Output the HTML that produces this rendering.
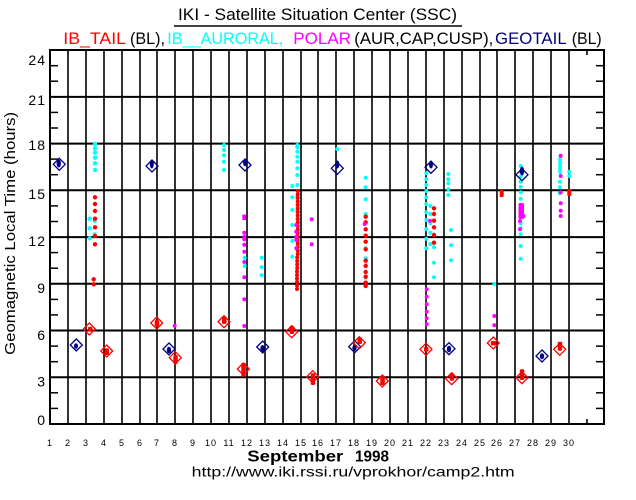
<!DOCTYPE html>
<html>
<head>
<meta charset="utf-8">
<style>
html,body{margin:0;padding:0;background:#fff;}
svg{display:block;}
text{font-family:"Liberation Sans",sans-serif;}
</style>
</head>
<body>
<svg width="636" height="500" viewBox="0 0 636 500" xmlns="http://www.w3.org/2000/svg">
<rect width="636" height="500" fill="#fff"/>

<!-- Title -->
<text x="178" y="20" font-size="17" textLength="279" lengthAdjust="spacingAndGlyphs" fill="#000">IKI - Satellite Situation Center (SSC)</text>
<line x1="174" y1="26" x2="462" y2="26" stroke="#000" stroke-width="1.5"/>
<g font-size="17">
<text x="63.3" y="44" fill="#ff0000" textLength="62.7" lengthAdjust="spacingAndGlyphs">IB_TAIL</text>
<text x="130" y="44" fill="#000" textLength="35" lengthAdjust="spacingAndGlyphs">(BL),</text>
<text x="167.3" y="44" fill="#00ffff" textLength="116" lengthAdjust="spacingAndGlyphs">IB__AURORAL,</text>
<text x="293.3" y="44" fill="#ff00ff" textLength="57.7" lengthAdjust="spacingAndGlyphs">POLAR</text>
<text x="354.3" y="44" fill="#000" textLength="139" lengthAdjust="spacingAndGlyphs">(AUR,CAP,CUSP),</text>
<text x="495" y="44" fill="#000080" textLength="71.7" lengthAdjust="spacingAndGlyphs">GEOTAIL</text>
<text x="571.7" y="44" fill="#000" textLength="30" lengthAdjust="spacingAndGlyphs">(BL)</text>
</g>

<!-- Vertical grid -->
<g stroke="#000" stroke-width="1.6">
<line x1="68" y1="50" x2="68" y2="424"/>
<line x1="86" y1="50" x2="86" y2="424"/>
<line x1="104" y1="50" x2="104" y2="424"/>
<line x1="122" y1="50" x2="122" y2="424"/>
<line x1="140" y1="50" x2="140" y2="424"/>
<line x1="157" y1="50" x2="157" y2="424"/>
<line x1="175" y1="50" x2="175" y2="424"/>
<line x1="193" y1="50" x2="193" y2="424"/>
<line x1="211" y1="50" x2="211" y2="424"/>
<line x1="229" y1="50" x2="229" y2="424"/>
<line x1="247" y1="50" x2="247" y2="424"/>
<line x1="265" y1="50" x2="265" y2="424"/>
<line x1="283" y1="50" x2="283" y2="424"/>
<line x1="301" y1="50" x2="301" y2="424"/>
<line x1="318" y1="50" x2="318" y2="424"/>
<line x1="336" y1="50" x2="336" y2="424"/>
<line x1="354" y1="50" x2="354" y2="424"/>
<line x1="372" y1="50" x2="372" y2="424"/>
<line x1="390" y1="50" x2="390" y2="424"/>
<line x1="408" y1="50" x2="408" y2="424"/>
<line x1="426" y1="50" x2="426" y2="424"/>
<line x1="444" y1="50" x2="444" y2="424"/>
<line x1="462" y1="50" x2="462" y2="424"/>
<line x1="480" y1="50" x2="480" y2="424"/>
<line x1="497" y1="50" x2="497" y2="424"/>
<line x1="515" y1="50" x2="515" y2="424"/>
<line x1="533" y1="50" x2="533" y2="424"/>
<line x1="551" y1="50" x2="551" y2="424"/>
<line x1="569" y1="50" x2="569" y2="424"/>
<line x1="587" y1="50" x2="587" y2="55"/>
<line x1="587" y1="419" x2="587" y2="424"/>
</g>

<!-- Horizontal grid -->
<g stroke="#000" stroke-width="2">
<line x1="50" y1="377.3" x2="604" y2="377.3"/>
<line x1="50" y1="330.5" x2="604" y2="330.5"/>
<line x1="50" y1="283.8" x2="604" y2="283.8"/>
<line x1="50" y1="237.1" x2="604" y2="237.1"/>
<line x1="50" y1="190.3" x2="604" y2="190.3"/>
<line x1="50" y1="143.6" x2="604" y2="143.6"/>
<line x1="50" y1="96.9" x2="604" y2="96.9"/>
</g>

<!-- Minor ticks -->
<g stroke="#000" stroke-width="1.5">
<line x1="50" y1="408.4" x2="58" y2="408.4"/><line x1="596" y1="408.4" x2="604" y2="408.4"/>
<line x1="50" y1="392.8" x2="58" y2="392.8"/><line x1="596" y1="392.8" x2="604" y2="392.8"/>
<line x1="50" y1="361.7" x2="58" y2="361.7"/><line x1="596" y1="361.7" x2="604" y2="361.7"/>
<line x1="50" y1="346.1" x2="58" y2="346.1"/><line x1="596" y1="346.1" x2="604" y2="346.1"/>
<line x1="50" y1="314.9" x2="58" y2="314.9"/><line x1="596" y1="314.9" x2="604" y2="314.9"/>
<line x1="50" y1="299.4" x2="58" y2="299.4"/><line x1="596" y1="299.4" x2="604" y2="299.4"/>
<line x1="50" y1="268.2" x2="58" y2="268.2"/><line x1="596" y1="268.2" x2="604" y2="268.2"/>
<line x1="50" y1="252.6" x2="58" y2="252.6"/><line x1="596" y1="252.6" x2="604" y2="252.6"/>
<line x1="50" y1="221.5" x2="58" y2="221.5"/><line x1="596" y1="221.5" x2="604" y2="221.5"/>
<line x1="50" y1="205.9" x2="58" y2="205.9"/><line x1="596" y1="205.9" x2="604" y2="205.9"/>
<line x1="50" y1="174.7" x2="58" y2="174.7"/><line x1="596" y1="174.7" x2="604" y2="174.7"/>
<line x1="50" y1="159.1" x2="58" y2="159.1"/><line x1="596" y1="159.1" x2="604" y2="159.1"/>
<line x1="50" y1="128" x2="58" y2="128"/><line x1="596" y1="128" x2="604" y2="128"/>
<line x1="50" y1="112.4" x2="58" y2="112.4"/><line x1="596" y1="112.4" x2="604" y2="112.4"/>
<line x1="50" y1="81.2" x2="58" y2="81.2"/><line x1="596" y1="81.2" x2="604" y2="81.2"/>
<line x1="50" y1="65.7" x2="58" y2="65.7"/><line x1="596" y1="65.7" x2="604" y2="65.7"/>
</g>

<!-- Border -->
<rect x="50" y="50" width="554" height="374" fill="none" stroke="#000" stroke-width="2"/>

<!-- Y labels -->
<g font-size="14" text-anchor="end" fill="#000" letter-spacing="1">
<text x="46" y="65">24</text>
<text x="46" y="105">21</text>
<text x="46" y="150">18</text>
<text x="46" y="199">15</text>
<text x="46" y="246">12</text>
<text x="46" y="293">9</text>
<text x="46" y="340">6</text>
<text x="46" y="386.5">3</text>
<text x="46" y="425">0</text>
</g>

<text transform="translate(15,233.4) rotate(-90)" font-size="15" text-anchor="middle" textLength="243" lengthAdjust="spacingAndGlyphs" fill="#000">Geomagnetic Local Time (hours)</text>

<!-- X labels -->
<g font-size="9" text-anchor="middle" fill="#000" letter-spacing="1">
<text x="50" y="446">1</text><text x="68" y="446">2</text><text x="86" y="446">3</text><text x="104" y="446">4</text>
<text x="122" y="446">5</text><text x="140" y="446">6</text><text x="157" y="446">7</text><text x="175" y="446">8</text>
<text x="193" y="446">9</text><text x="211" y="446">10</text><text x="229" y="446">11</text><text x="247" y="446">12</text>
<text x="265" y="446">13</text><text x="283" y="446">14</text><text x="301" y="446">15</text><text x="318" y="446">16</text>
<text x="336" y="446">17</text><text x="354" y="446">18</text><text x="372" y="446">19</text><text x="390" y="446">20</text>
<text x="408" y="446">21</text><text x="426" y="446">22</text><text x="444" y="446">23</text><text x="462" y="446">24</text>
<text x="480" y="446">25</text><text x="497" y="446">26</text><text x="515" y="446">27</text><text x="533" y="446">28</text>
<text x="551" y="446">29</text><text x="569" y="446">30</text>
</g>

<text x="247.3" y="461.7" font-size="16" font-weight="bold" textLength="96" lengthAdjust="spacingAndGlyphs" fill="#000">September</text>
<text x="355" y="461.7" font-size="16" font-weight="bold" textLength="34" lengthAdjust="spacingAndGlyphs" fill="#000">1998</text>
<text x="191.7" y="476.5" font-size="14" textLength="323" lengthAdjust="spacingAndGlyphs" fill="#000">http://www.iki.rssi.ru/vprokhor/camp2.htm</text>

<!-- Cyan dots -->
<g fill="#00ffff">
<circle cx="95" cy="144" r="2.2"/><circle cx="95" cy="148.3" r="2.2"/><circle cx="95" cy="152.7" r="2.2"/><circle cx="95" cy="157.7" r="2.2"/><circle cx="95" cy="163.3" r="2.2"/><circle cx="95" cy="170" r="2.2"/>
<circle cx="89.7" cy="218.7" r="2.2"/><circle cx="89.7" cy="228.3" r="2.2"/><circle cx="89.7" cy="238.3" r="2.2"/><circle cx="94.7" cy="221" r="2"/><circle cx="94.7" cy="234.3" r="2"/>
<circle cx="224" cy="145" r="2"/><circle cx="224" cy="150" r="2"/><circle cx="224" cy="155.3" r="2"/><circle cx="224" cy="161.7" r="2"/><circle cx="224" cy="170" r="2"/>
<circle cx="297.3" cy="145" r="2"/><circle cx="297.3" cy="147.3" r="2"/><circle cx="297.3" cy="151.7" r="2"/><circle cx="297.3" cy="156.7" r="2"/><circle cx="297.3" cy="161.7" r="2"/><circle cx="297.3" cy="168.3" r="2"/><circle cx="297.3" cy="175" r="2"/><circle cx="297.3" cy="185" r="2"/><circle cx="297.3" cy="197" r="2"/><circle cx="297.3" cy="210.7" r="2"/>
<circle cx="292.3" cy="186" r="2"/><circle cx="292.3" cy="197.3" r="2"/><circle cx="292.3" cy="210" r="2"/><circle cx="292.3" cy="225" r="2"/><circle cx="292.3" cy="241" r="2"/><circle cx="292.3" cy="256.7" r="2"/>
<circle cx="244.7" cy="257.7" r="2"/><circle cx="244.7" cy="266" r="2"/>
<circle cx="261.7" cy="257.7" r="2"/><circle cx="261.7" cy="267.3" r="2"/><circle cx="261.7" cy="275.3" r="2"/>
<circle cx="337.3" cy="149" r="2"/>
<circle cx="365.7" cy="177.7" r="2"/><circle cx="365.7" cy="187.3" r="2"/><circle cx="365.7" cy="199.3" r="2"/><circle cx="365.7" cy="214" r="2"/><circle cx="365.7" cy="248.3" r="2"/><circle cx="365.7" cy="258.3" r="2"/><circle cx="365.7" cy="265.3" r="2"/><circle cx="365.7" cy="277.7" r="2"/>
<circle cx="426.3" cy="173.3" r="2"/><circle cx="426.3" cy="179.3" r="2"/><circle cx="426.3" cy="185" r="2"/><circle cx="426.3" cy="191" r="2"/><circle cx="426.3" cy="197.3" r="2"/><circle cx="426.3" cy="204" r="2"/><circle cx="426.3" cy="212.3" r="2"/><circle cx="426.3" cy="220" r="2"/><circle cx="426.3" cy="229.3" r="2"/><circle cx="426.3" cy="238.7" r="2"/><circle cx="426.3" cy="248.3" r="2"/>
<circle cx="430.3" cy="206" r="2"/><circle cx="430.3" cy="214" r="2"/><circle cx="430.3" cy="223.3" r="2"/><circle cx="430.3" cy="232.7" r="2"/><circle cx="430.3" cy="244" r="2"/>
<circle cx="434" cy="247.3" r="2"/><circle cx="434" cy="262.7" r="2"/><circle cx="434" cy="277.3" r="2"/>
<circle cx="448.3" cy="174" r="2"/><circle cx="448.3" cy="179.3" r="2"/><circle cx="448.3" cy="183.3" r="2"/><circle cx="448.3" cy="189.3" r="2"/><circle cx="448.3" cy="195" r="2"/>
<circle cx="451" cy="230" r="2"/><circle cx="451" cy="245.3" r="2"/><circle cx="451" cy="260.3" r="2"/>
<circle cx="494.3" cy="284" r="2"/>
<circle cx="520.7" cy="166" r="2"/><circle cx="520.7" cy="171.7" r="2"/><circle cx="520.7" cy="176.7" r="2"/><circle cx="520.7" cy="181.7" r="2"/><circle cx="520.7" cy="186.7" r="2"/><circle cx="520.7" cy="192.3" r="2"/><circle cx="520.7" cy="198.7" r="2"/><circle cx="520.7" cy="205" r="2"/><circle cx="520.7" cy="215" r="2"/><circle cx="520.7" cy="223.3" r="2"/><circle cx="520.7" cy="228.3" r="2"/><circle cx="520.7" cy="234.3" r="2"/><circle cx="520.7" cy="246" r="2"/><circle cx="520.7" cy="258.7" r="2"/>
<rect x="558.3" y="157" width="3.5" height="17" rx="1"/>
<circle cx="560" cy="181.7" r="2"/><circle cx="560" cy="187.3" r="2"/><circle cx="560" cy="193.3" r="2"/>
<circle cx="569.3" cy="171.7" r="2"/><circle cx="569.3" cy="176" r="2"/>
</g>

<!-- Red dots -->
<g fill="#ff0000">
<circle cx="95" cy="197.3" r="2.2"/><circle cx="95" cy="204" r="2.2"/><circle cx="95" cy="211" r="2.2"/><circle cx="95" cy="218.7" r="2.2"/><circle cx="95" cy="227.3" r="2.2"/><circle cx="95" cy="236" r="2.2"/><circle cx="95" cy="244.3" r="2.2"/>
<circle cx="93.7" cy="279.3" r="2.2"/><circle cx="93.7" cy="284.3" r="2.2"/>
<circle cx="297.7" cy="191" r="2"/><circle cx="297.7" cy="194.5" r="2"/><circle cx="297.7" cy="198" r="2"/><circle cx="297.7" cy="201.5" r="2"/><circle cx="297.7" cy="205" r="2"/><circle cx="297.7" cy="208.5" r="2"/><circle cx="297.7" cy="212" r="2"/><circle cx="297.7" cy="215.5" r="2"/><circle cx="297.7" cy="219" r="2"/><circle cx="297.7" cy="222.5" r="2"/><circle cx="297.7" cy="226" r="2"/><circle cx="297.7" cy="229.5" r="2"/><circle cx="297.7" cy="233" r="2"/><circle cx="297.7" cy="236.5" r="2"/><circle cx="297.7" cy="240" r="2"/><circle cx="297.7" cy="243.5" r="2"/><circle cx="297.7" cy="247" r="2"/><circle cx="297.7" cy="250.5" r="2"/><circle cx="297.7" cy="254" r="2"/><circle cx="297.2" cy="257.5" r="2"/><circle cx="297.2" cy="261" r="2"/><circle cx="297.2" cy="264.5" r="2"/><circle cx="297.2" cy="268" r="2"/><circle cx="297" cy="271.5" r="2"/><circle cx="297" cy="275" r="2"/><circle cx="297" cy="278.5" r="2"/><circle cx="297" cy="282" r="2"/><circle cx="297" cy="285.5" r="2"/><circle cx="297" cy="289" r="2"/>
<circle cx="365.7" cy="216.7" r="2.2"/><circle cx="365.7" cy="222.3" r="2.2"/><circle cx="365.7" cy="229.3" r="2.2"/><circle cx="365.7" cy="235.7" r="2.2"/><circle cx="365.7" cy="241.7" r="2.2"/><circle cx="365.7" cy="249.3" r="2.2"/><circle cx="365.7" cy="260.7" r="2.2"/><circle cx="365.7" cy="266" r="2.2"/><circle cx="365.7" cy="272" r="2.2"/><circle cx="365.7" cy="276.7" r="2.2"/><circle cx="365.7" cy="282.7" r="2.2"/><circle cx="365.7" cy="286" r="2.2"/>
<circle cx="434" cy="208.3" r="2.2"/><circle cx="434" cy="214" r="2.2"/><circle cx="434" cy="220.7" r="2.2"/><circle cx="434" cy="227.3" r="2.2"/><circle cx="434" cy="235" r="2.2"/><circle cx="434" cy="242.7" r="2.2"/>
<rect x="499.7" y="190" width="4" height="7" rx="1"/>
<rect x="567.3" y="189" width="4" height="7" rx="1"/>
</g>

<!-- Magenta dots -->
<g fill="#ff00ff">
<circle cx="174.7" cy="325.7" r="2"/>
<rect x="242.3" y="214.5" width="4" height="5.5" rx="1"/>
<circle cx="244.3" cy="232.7" r="2"/><circle cx="244.3" cy="236.7" r="2"/><circle cx="244.3" cy="239.3" r="2"/><circle cx="244.3" cy="244.7" r="2"/><circle cx="244.3" cy="251.7" r="2"/><circle cx="244.3" cy="262" r="2"/><circle cx="244.3" cy="277.3" r="2"/><circle cx="244.3" cy="299.3" r="2"/><circle cx="244.3" cy="326" r="2"/>
<circle cx="296.3" cy="225" r="2"/><circle cx="296.3" cy="231.7" r="2"/><circle cx="296.3" cy="236.7" r="2"/><circle cx="296.3" cy="240" r="2"/><circle cx="296.3" cy="248.3" r="2"/>
<circle cx="311.7" cy="219.3" r="2"/><circle cx="311.7" cy="244.3" r="2"/>
<circle cx="364.7" cy="224" r="2"/>
<circle cx="430" cy="220.7" r="2"/>
<circle cx="426.7" cy="289.3" r="2"/><circle cx="426.7" cy="296.7" r="2"/><circle cx="426.7" cy="304.3" r="2"/><circle cx="426.7" cy="311.7" r="2"/><circle cx="426.7" cy="318.3" r="2"/><circle cx="426.7" cy="324.3" r="2"/>
<circle cx="494.3" cy="316" r="2"/><circle cx="494.3" cy="325.3" r="2"/>
<rect x="518.5" y="203" width="5.5" height="16" rx="1.5"/>
<circle cx="523.5" cy="216" r="2"/>
<circle cx="520" cy="221" r="2"/><circle cx="520" cy="229.3" r="2"/>
<circle cx="560.7" cy="155.7" r="2"/><circle cx="560.7" cy="176" r="2"/><circle cx="560.7" cy="192.3" r="2"/><circle cx="560.7" cy="203.3" r="2"/><circle cx="560.7" cy="210.7" r="2"/><circle cx="560.7" cy="216" r="2"/>
</g>

<!-- Navy diamonds (GEOTAIL) -->
<g fill="none" stroke="#000080" stroke-width="1.3">
<polygon points="59.3,158.3 65.3,164.3 59.3,170.3 53.3,164.3"/>
<polygon points="152,160 158,166 152,172 146,166"/>
<polygon points="245,159 251,165 245,171 239,165"/>
<polygon points="337.3,162.3 343.3,168.3 337.3,174.3 331.3,168.3"/>
<polygon points="431,161.3 437,167.3 431,173.3 425,167.3"/>
<polygon points="522,168.7 528,174.7 522,180.7 516,174.7"/>
<polygon points="76.3,339 82.3,345 76.3,351 70.3,345"/>
<polygon points="169,343 175,349 169,355 163,349"/>
<polygon points="262.7,341 268.7,347 262.7,353 256.7,347"/>
<polygon points="354.7,340.7 360.7,346.7 354.7,352.7 348.7,346.7"/>
<polygon points="449,342.7 455,348.7 449,354.7 443,348.7"/>
<polygon points="542,350 548,356 542,362 536,356"/>
</g>
<g fill="#000080">
<ellipse cx="58.8" cy="163.5" rx="2.2" ry="4"/>
<ellipse cx="151.8" cy="164" rx="2" ry="4.5"/>
<ellipse cx="245" cy="162.5" rx="2" ry="3.8"/>
<ellipse cx="337.3" cy="164.5" rx="2" ry="4"/>
<ellipse cx="431" cy="164.5" rx="2" ry="4"/>
<ellipse cx="522" cy="171" rx="2.2" ry="4.5"/>
<ellipse cx="76" cy="346" rx="2" ry="2.8"/>
<ellipse cx="169" cy="350" rx="2.2" ry="3.3"/>
<ellipse cx="262.5" cy="348.5" rx="2.2" ry="3.5"/>
<ellipse cx="354.5" cy="348" rx="2.2" ry="3"/>
<ellipse cx="449" cy="349" rx="2.2" ry="3.3"/>
<ellipse cx="542" cy="356.3" rx="2.2" ry="3"/>
</g>

<!-- Red diamonds (IB_TAIL) -->
<g fill="none" stroke="#ff0000" stroke-width="1.3">
<polygon points="89.3,323 95.3,329 89.3,335 83.3,329"/>
<polygon points="156.7,317 162.7,323 156.7,329 150.7,323"/>
<polygon points="106.7,345 112.7,351 106.7,357 100.7,351"/>
<polygon points="175.3,351.7 181.3,357.7 175.3,363.7 169.3,357.7"/>
<polygon points="224,315.7 230,321.7 224,327.7 218,321.7"/>
<polygon points="291.7,325.7 297.7,331.7 291.7,337.7 285.7,331.7"/>
<polygon points="243.3,363 249.3,369 243.3,375 237.3,369"/>
<polygon points="312.7,370.7 318.7,376.7 312.7,382.7 306.7,376.7"/>
<polygon points="359.3,336.7 365.3,342.7 359.3,348.7 353.3,342.7"/>
<polygon points="382.3,375 388.3,381 382.3,387 376.3,381"/>
<polygon points="426,343.3 432,349.3 426,355.3 420,349.3"/>
<polygon points="451.7,372.7 457.7,378.7 451.7,384.7 445.7,378.7"/>
<polygon points="493.3,337 499.3,343 493.3,349 487.3,343"/>
<polygon points="522,371.7 528,377.7 522,383.7 516,377.7"/>
<polygon points="559.7,343.3 565.7,349.3 559.7,355.3 553.7,349.3"/>
</g>
<g fill="#ff0000">
<rect x="88" y="326.7" width="4.5" height="5" rx="1.5"/>
<rect x="154.7" y="320" width="4.5" height="6.7" rx="1.5"/>
<rect x="104.5" y="348.3" width="4.5" height="6.7" rx="1.5"/>
<rect x="173.3" y="355" width="4.5" height="9" rx="1.5"/>
<rect x="222" y="316.7" width="4.5" height="7.3" rx="1.5"/>
<rect x="289.7" y="325.7" width="4.5" height="8.3" rx="1.5"/>
<rect x="241.3" y="362.7" width="4.5" height="14" rx="1.5"/>
<rect x="310.7" y="373.3" width="4.5" height="11.7" rx="1.5"/>
<rect x="357.5" y="337.3" width="4.5" height="6.7" rx="1.5"/>
<rect x="380.3" y="376.7" width="4.5" height="8.3" rx="1.5"/>
<rect x="424" y="346.7" width="4.5" height="5" rx="1.5"/>
<rect x="449.7" y="373.3" width="4.5" height="7.4" rx="1.5"/>
<rect x="490.8" y="341" width="5.5" height="4.5" rx="1.5"/>
<rect x="519.8" y="369.3" width="4.5" height="10.7" rx="1.5"/>
<rect x="557.7" y="341.7" width="4.5" height="9" rx="1.5"/>
</g>
</svg>
</body>
</html>
